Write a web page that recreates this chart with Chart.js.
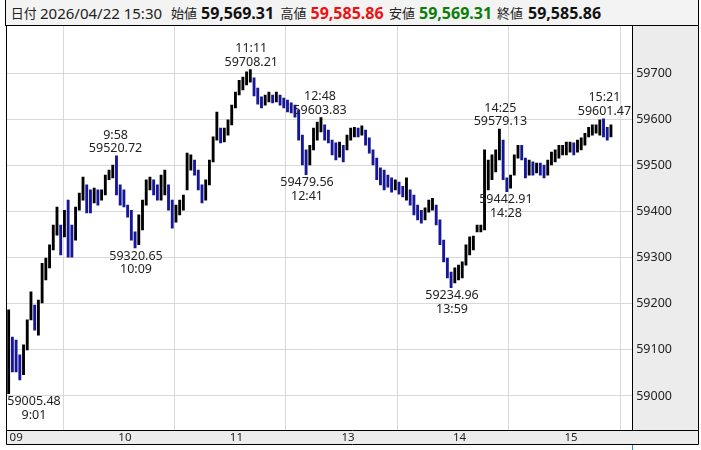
<!DOCTYPE html>
<html>
<head>
<meta charset="utf-8">
<script src="https://cdn.jsdelivr.net/npm/chart.js@4.4.1/dist/chart.umd.min.js"></script>
<style>
  html, body { margin: 0; padding: 0; background: #fff; }
  #wrap { position: relative; width: 701px; height: 450px; overflow: hidden; }
  #head {
    position: absolute; left: 5px; top: 0; width: 694px; height: 26px;
    box-sizing: border-box; border: 1px solid #000; border-top: none;
    background: #f3f3f3; font-family: "Noto Sans", "Noto Sans CJK JP", sans-serif;
    color: #222; white-space: nowrap;
  }
  #head span { position: absolute; top: 2px; line-height: 22px; font-size: 15px; }
  #head span.k { font-size: 13px; }
  #head span.v { font-weight: bold; font-size: 16px; }
  canvas { position: absolute; left: 0; top: 0; }
</style>
</head>
<body>
<div id="wrap">
  <canvas id="c" width="701" height="450"></canvas>
  <div id="head"></div>
</div>
<script>
// ヘッダー
const hdrText  = ["日付", "2026/04/22 15:30", "始値", "59,569.31", "高値", "59,585.86", "安値", "59,569.31", "終値", "59,585.86"];
const hdrLeft  = [4.8, 34, 165, 195, 274.5, 304.5, 383, 413, 491, 522];
const hdrColor = ["#222", "#222", "#222", "#111", "#222", "#f01010", "#222", "#0a7d0a", "#222", "#111"];

// 2分足 (安値 / 高値)
const lo = [
  59005,59052,59052,59035,59046,59100,59165,59143,59132,59202,
  59252,59278,59317,59349,59306,59345,59301,59301,59338,59403,
  59425,59397,59397,59419,59414,59425,59436,59469,59473,59436,
  59414,59410,59388,59338,59321,59328,59360,59414,59447,59436,
  59425,59425,59436,59403,59364,59377,59393,59403,59447,59490,
  59479,59447,59419,59425,59458,59508,59555,59549,59551,59566,
  59588,59625,59653,59664,59675,59681,59651,59633,59625,59631,
  59638,59636,59638,59631,59625,
  59616,59614,59605,59555,59501,
  59480,59501,59534,59555,59573,59555,59549,59523,59512,59518,
  59508,59534,59555,59562,59562,59566,59544,59527,59501,59469,
  59458,59447,59453,59442,59447,59438,59432,59425,59414,59393,
  59382,59375,59382,59399,59403,59371,59328,59291,59256,59235,
  59245,59252,59256,59284,59306,59317,59356,59356,59360,59447,
  59469,59486,59512,59469,59443,59451,59479,59516,59512,59473,
  59479,59479,59484,59479,59473,59479,59501,59508,59516,59523,
  59523,59529,59523,59529,59534,59544,59562,59566,59570,59566,
  59562,59555,59562
];
const hi = [
  59187,59128,59121,59089,59111,59165,59226,59197,59208,59288,
  59299,59328,59371,59410,59371,59403,59425,59371,59410,59440,
  59475,59458,59447,59451,59447,59447,59479,59490,59501,59521,
  59458,59447,59414,59403,59356,59393,59425,59469,59475,59469,
  59458,59479,59490,59458,59425,59414,59425,59436,59527,59523,
  59512,59490,59458,59469,59512,59562,59616,59581,59581,59599,
  59631,59659,59685,59692,59703,59708,59690,59668,59649,59653,
  59659,59653,59659,59653,59646,
  59642,59636,59631,59620,59566,
  59534,59544,59581,59594,59604,59588,59577,59555,59549,59551,
  59544,59566,59581,59583,59581,59586,59577,59560,59534,59516,
  59495,59490,59479,59473,59469,59464,59455,59473,59447,59436,
  59414,59403,59408,59425,59429,59414,59382,59338,59299,59269,
  59278,59284,59291,59328,59345,59347,59371,59371,59534,59512,
  59523,59534,59579,59555,59473,59479,59523,59544,59544,59516,
  59512,59508,59505,59505,59501,59512,59529,59534,59544,59544,
  59551,59551,59549,59555,59560,59570,59583,59588,59588,59599,
  59601,59583,59588
];

// 高値・安値の注記
const annTime = ["9:01", "9:58", "10:09", "11:11", "12:41", "12:48", "13:59", "14:25", "14:28", "15:21"];
const annVal  = [59005.48, 59520.72, 59320.65, 59708.21, 59479.56, 59603.83, 59234.96, 59579.13, 59442.91, 59601.47];
const annKind = ["lo", "hi", "lo", "hi", "lo", "hi", "lo", "hi", "lo", "hi"];

// 軸
const xTickTime  = ["9:01", "10:00", "11:00", "13:00", "14:00", "15:00"];
const xTickLabel = ["09", "10", "11", "13", "14", "15"];
const yTicks = [59000, 59100, 59200, 59300, 59400, 59500, 59600, 59700];

// 立会時間の分 (昼休み除く)
function tradeMin(t) {
  const [h, m] = t.split(":").map(Number);
  let v = h * 60 + m - 540;
  if (v >= 210) v -= 60;
  return v;
}

const FONT = "'Noto Sans', 'DejaVu Sans', sans-serif";

const head = document.getElementById("head");
hdrText.forEach((t, i) => {
  const s = document.createElement("span");
  s.textContent = t;
  s.style.left = hdrLeft[i] + "px";
  s.style.color = hdrColor[i];
  if (i % 2 === 0) s.className = "k";
  else if (i > 1) s.className = "v";
  head.appendChild(s);
});

function mid(i) { return (lo[i] + hi[i]) / 2; }

const frame = {
  id: "frame",
  beforeDraw(chart) {
    const c = chart.ctx, a = chart.chartArea;
    c.save();
    c.fillStyle = "#fff";
    c.fillRect(0, 0, chart.width, chart.height);
    c.fillStyle = "#ececec";
    c.fillRect(a.right, a.top - 1, 699 - a.right, a.bottom - a.top + 1);
    c.fillRect(a.left, a.bottom, 699 - a.left, 14);
    c.restore();
  },
  afterDraw(chart) {
    const c = chart.ctx, a = chart.chartArea;
    c.save();
    c.strokeStyle = "#000";
    c.lineWidth = 1;
    c.beginPath();
    c.moveTo(6.5, a.top - 1); c.lineTo(6.5, 444.5);
    c.moveTo(632.5, a.top - 1); c.lineTo(632.5, 430.5);
    c.moveTo(698.5, a.top - 1); c.lineTo(698.5, 444.5);
    c.moveTo(6.5, 430.5); c.lineTo(698.5, 430.5);
    c.moveTo(6.5, 444.5); c.lineTo(698.5, 444.5);
    c.stroke();
    c.strokeStyle = "#1e90d8";
    c.beginPath();
    c.moveTo(632.5, 445); c.lineTo(632.5, 450);
    c.stroke();
    c.restore();
  },
  afterDatasetsDraw(chart) {
    const c = chart.ctx, a = chart.chartArea;
    const xs = chart.scales.x, ys = chart.scales.y;
    c.save();
    c.font = "12.5px " + FONT;
    c.fillStyle = "#222";
    c.textAlign = "center";
    c.textBaseline = "middle";
    annTime.forEach((t, i) => {
      const v = annVal[i].toFixed(2);
      const px = xs.getPixelForValue(tradeMin(t) + 0.5);
      const py = ys.getPixelForValue(annVal[i]);
      const w = Math.max(c.measureText(t).width, c.measureText(v).width);
      let cx = Math.max(px, a.left + w / 2 + 0.5);
      cx = Math.min(cx, a.right - w / 2 - 1);
      if (annKind[i] === "hi") {
        c.fillText(t, cx, py - 21);
        c.fillText(v, cx, py - 7.5);
      } else {
        c.fillText(v, cx, py + 8);
        c.fillText(t, cx, py + 21.5);
      }
    });
    c.restore();
  }
};

new Chart(document.getElementById("c"), {
  type: "bar",
  data: {
    datasets: [{
      data: lo.map((l, i) => ({ x: 2 * i + 1, y: [l, hi[i]] })),
      backgroundColor: ctx => {
        const i = ctx.dataIndex;
        if (i === 0) return "#000";
        return mid(i) >= mid(i - 1) ? "#000" : "#16169a";
      },
      barThickness: 2.2,
      minBarLength: 1,
      borderWidth: 0
    }]
  },
  options: {
    responsive: false,
    animation: false,
    events: [],
    layout: { padding: { left: 6.8, right: 1.6, top: 26, bottom: 6 } },
    plugins: { legend: { display: false }, tooltip: { enabled: false } },
    scales: {
      x: {
        type: "linear",
        position: "bottom",
        min: 0,
        max: 336.7,
        offset: false,
        afterBuildTicks: s => { s.ticks = xTickTime.map(t => ({ value: tradeMin(t) + (t === "9:01" ? 0.5 : 0) })); },
        afterFit: s => { s.height = 14; },
        grid: { color: "#d9d9d9", lineWidth: 1, drawTicks: false },
        border: { display: false },
        ticks: {
          callback: (v, i) => xTickLabel[i],
          align: "start",
          autoSkip: false,
          maxRotation: 0,
          padding: 1,
          color: "#222",
          font: { family: FONT, size: 11.5 }
        }
      },
      y: {
        type: "linear",
        position: "right",
        min: 58926.2,
        max: 59802.6,
        afterBuildTicks: s => { s.ticks = yTicks.map(v => ({ value: v })); },
        afterFit: s => { s.width = 66.7; },
        grid: { color: "#d9d9d9", lineWidth: 1, drawTicks: false },
        border: { display: false },
        ticks: {
          callback: v => String(v),
          padding: 3.5,
          color: "#222",
          font: { family: FONT, size: 12.5 }
        }
      }
    }
  },
  plugins: [frame]
});
</script>
</body>
</html>
